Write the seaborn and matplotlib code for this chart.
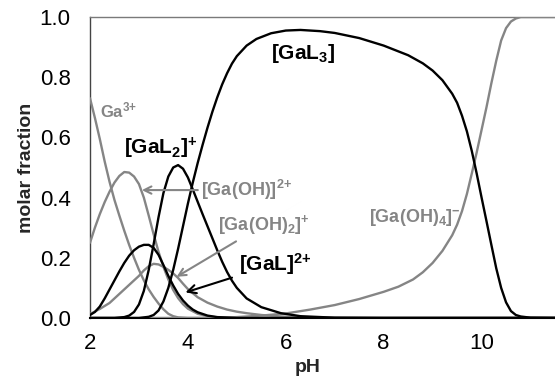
import matplotlib
matplotlib.use("Agg")
import matplotlib.pyplot as plt
import seaborn as sns
import pandas as pd

# Species distribution of Ga(III) with ligand L versus pH
ga_ph = [2.0, 2.1, 2.2, 2.3, 2.4, 2.5, 2.6, 2.7, 2.8, 2.9, 3.0, 3.1, 3.2, 3.3, 3.4, 3.5,
         3.6, 3.7, 3.8, 4.0, 11.5]
ga_frac = [0.73, 0.665, 0.595, 0.52, 0.452, 0.392, 0.34, 0.29, 0.243, 0.2, 0.16, 0.125,
           0.095, 0.07, 0.048, 0.029, 0.014, 0.006, 0.002, 0.0, 0.0]

gaoh_ph = [2.0, 2.1, 2.2, 2.3, 2.4, 2.5, 2.6, 2.7, 2.8, 2.9, 3.0, 3.1, 3.2, 3.3, 3.4, 3.5,
           3.6, 3.7, 3.8, 3.9, 4.0, 4.2, 4.4, 4.6, 5.0, 11.5]
gaoh_frac = [0.25, 0.3, 0.345, 0.385, 0.42, 0.45, 0.472, 0.485, 0.483, 0.47, 0.445, 0.4,
             0.34, 0.278, 0.22, 0.17, 0.128, 0.093, 0.066, 0.046, 0.031, 0.014, 0.006,
             0.002, 0.0, 0.0]

gaoh2_ph = [2.0, 2.2, 2.4, 2.6, 2.8, 3.0, 3.1, 3.2, 3.3, 3.4, 3.5, 3.6, 3.7, 3.8, 3.9, 4.0,
            4.2, 4.4, 4.6, 4.8, 5.0, 5.2, 5.5, 5.9, 6.3, 7.0, 11.5]
gaoh2_frac = [0.013, 0.03, 0.05, 0.08, 0.11, 0.14, 0.158, 0.172, 0.18, 0.178, 0.17, 0.16,
              0.148, 0.133, 0.114, 0.096, 0.069, 0.051, 0.038, 0.028, 0.021, 0.016, 0.01,
              0.005, 0.002, 0.0, 0.0]

gaoh4_ph = [2.0, 4.5, 5.0, 5.5, 6.0, 6.5, 7.0, 7.5, 8.0, 8.3, 8.6, 8.8, 9.0, 9.2, 9.4,
            9.5, 9.6, 9.7, 9.8, 9.9, 10.0, 10.1, 10.2, 10.3, 10.4, 10.5, 10.6, 10.7, 10.8,
            11.5]
gaoh4_frac = [0.0, 0.0, 0.003, 0.008, 0.015, 0.028, 0.043, 0.063, 0.087, 0.104, 0.128,
              0.152, 0.183, 0.223, 0.275, 0.31, 0.355, 0.412, 0.48, 0.55, 0.625, 0.7, 0.78,
              0.855, 0.922, 0.963, 0.985, 0.995, 1.0, 1.0]

gal_ph = [2.0, 2.1, 2.2, 2.3, 2.4, 2.5, 2.6, 2.7, 2.8, 2.9, 3.0, 3.1, 3.2, 3.3, 3.4, 3.5,
          3.6, 3.7, 3.8, 3.9, 4.0, 4.1, 4.2, 4.4, 4.6, 5.0, 11.5]
gal_frac = [0.01, 0.02, 0.038, 0.065, 0.095, 0.125, 0.155, 0.183, 0.207, 0.225, 0.237,
            0.243, 0.243, 0.233, 0.21, 0.176, 0.14, 0.108, 0.08, 0.058, 0.041, 0.028, 0.019,
            0.008, 0.003, 0.0, 0.0]

gal2_ph = [2.0, 2.5, 2.7, 2.8, 2.9, 3.0, 3.1, 3.2, 3.3, 3.4, 3.5, 3.6, 3.7, 3.8, 3.9, 4.0,
           4.1, 4.2, 4.3, 4.4, 4.5, 4.6, 4.7, 4.8, 4.9, 5.0, 5.2, 5.5, 5.9, 6.3, 7.0, 8.0,
           11.5]
gal2_frac = [0.0, 0.0, 0.003, 0.008, 0.02, 0.045, 0.09, 0.16, 0.245, 0.335, 0.415, 0.47,
             0.5, 0.508, 0.496, 0.467, 0.427, 0.386, 0.345, 0.305, 0.265, 0.225, 0.187,
             0.153, 0.124, 0.1, 0.065, 0.036, 0.016, 0.006, 0.001, 0.0, 0.0]

gal3_ph = [2.0, 3.0, 3.2, 3.3, 3.4, 3.5, 3.6, 3.7, 3.8, 3.9, 4.0, 4.1, 4.2, 4.3, 4.4, 4.5,
           4.6, 4.7, 4.8, 4.9, 5.0, 5.2, 5.4, 5.7, 6.0, 6.3, 6.7, 7.0, 7.5, 8.0, 8.5, 8.8,
           9.0, 9.2, 9.4, 9.5, 9.6, 9.7, 9.8, 9.9, 10.0, 10.1, 10.2, 10.3, 10.4, 10.5, 10.6,
           10.7, 10.8, 11.0, 11.5]
gal3_frac = [0.0, 0.0, 0.004, 0.01, 0.025, 0.055, 0.1, 0.16, 0.23, 0.305, 0.38, 0.45,
             0.515, 0.575, 0.632, 0.685, 0.733, 0.776, 0.813, 0.845, 0.87, 0.905, 0.927,
             0.946, 0.955, 0.957, 0.953, 0.947, 0.93, 0.905, 0.873, 0.846, 0.822, 0.79,
             0.745, 0.715, 0.672, 0.62, 0.555, 0.48, 0.4, 0.322, 0.243, 0.165, 0.1, 0.052,
             0.023, 0.01, 0.005, 0.001, 0.0]

species = ["Ga", "GaOH", "GaOH2", "GaOH4", "GaL", "GaL2", "GaL3"]
series = {
    "Ga": (ga_ph, ga_frac),
    "GaOH": (gaoh_ph, gaoh_frac),
    "GaOH2": (gaoh2_ph, gaoh2_frac),
    "GaOH4": (gaoh4_ph, gaoh4_frac),
    "GaL": (gal_ph, gal_frac),
    "GaL2": (gal2_ph, gal2_frac),
    "GaL3": (gal3_ph, gal3_frac),
}

GRAY = "#858585"
BLACK = "#000000"
palette = {"Ga": GRAY, "GaOH": GRAY, "GaOH2": GRAY, "GaOH4": GRAY,
           "GaL": BLACK, "GaL2": BLACK, "GaL3": BLACK}

rows = []
for name in species:
    xs, ys = series[name]
    for x, y in zip(xs, ys):
        rows.append({"species": name, "pH": x, "fraction": y})
df = pd.DataFrame(rows)

sns.set_theme(style="white")
plt.rcParams["font.family"] = ["Liberation Sans", "DejaVu Sans"]
plt.rcParams["mathtext.fontset"] = "custom"
plt.rcParams["mathtext.rm"] = "Liberation Sans:bold"
plt.rcParams["mathtext.it"] = "Liberation Sans:bold"
plt.rcParams["mathtext.bf"] = "Liberation Sans:bold"
plt.rcParams["mathtext.sf"] = "Liberation Sans:bold"

fig = plt.figure(figsize=(5.55, 3.85), dpi=100)
ax = fig.add_axes([90 / 555, 1 - 318 / 385, 1 - 90 / 555, 301 / 385])

sns.lineplot(data=df, x="pH", y="fraction", hue="species", hue_order=species,
             palette=palette, estimator=None, linewidth=1.7, legend=False, ax=ax,
             zorder=3)

ax.set_xlim(2, 11.5)
ax.set_ylim(0, 1.0)
ax.set_xticks([2, 4, 6, 8, 10])
ax.set_yticks([0.0, 0.2, 0.4, 0.6, 0.8, 1.0])
ax.set_yticklabels(["0.0", "0.2", "0.4", "0.6", "0.8", "1.0"])
ax.tick_params(axis="both", labelsize=16, colors="#000000", direction="out")
ax.tick_params(axis="y", length=6, width=1, pad=8, color="#444444")
ax.tick_params(axis="x", length=4, width=1, pad=7, color="#444444")

ax.spines["right"].set_visible(False)
ax.spines["top"].set_color("#7a7a7a")
ax.spines["top"].set_linewidth(1.0)
ax.spines["left"].set_color("#444444")
ax.spines["left"].set_linewidth(1.0)
ax.spines["bottom"].set_color("#000000")
ax.spines["bottom"].set_linewidth(1.5)

ax.set_xlabel("pH", fontsize=14, fontweight="bold")
ax.set_ylabel("molar fraction", fontsize=14, fontweight="bold")
ax.xaxis.set_label_coords(0.469, -0.135)
ax.yaxis.set_label_coords(-0.118, 0.5)

# Species labels
lab = dict(fontweight="bold", va="center", ha="left")
ax.text(2.2, 0.69, r"Ga$^{3{+}}$", color=GRAY, fontsize=12, **lab)
ax.text(2.7, 0.565, r"[GaL$_{2}$]$^{{+}}$", color=BLACK, fontsize=15, **lab)
ax.text(5.7, 0.88, r"[GaL$_{3}$]", color=BLACK, fontsize=15, **lab)
ax.text(7.7, 0.335, r"[Ga(OH)$_{4}$]$^{{-}}$", color=GRAY, fontsize=13, **lab)

# Labels with arrows pointing to their curves
ax.annotate(r"[Ga(OH)]$^{2{+}}$", xy=(3.06, 0.425), xytext=(4.27, 0.425),
            color=GRAY, fontsize=13, **lab,
            arrowprops=dict(arrowstyle="->", color=GRAY, lw=1.5, shrinkA=0, shrinkB=0))
ax.annotate(r"[Ga(OH)$_{2}$]$^{{+}}$", xy=(3.77, 0.137), xytext=(4.62, 0.31),
            color=GRAY, fontsize=13, **lab,
            arrowprops=dict(arrowstyle="->", color=GRAY, lw=1.5, shrinkA=2, shrinkB=0))
ax.annotate(r"[GaL]$^{2{+}}$", xy=(3.95, 0.085), xytext=(5.05, 0.18),
            color=BLACK, fontsize=15, **lab,
            arrowprops=dict(arrowstyle="->", color=BLACK, lw=1.5, shrinkA=3, shrinkB=0))

fig.savefig("out.png", dpi=100)
